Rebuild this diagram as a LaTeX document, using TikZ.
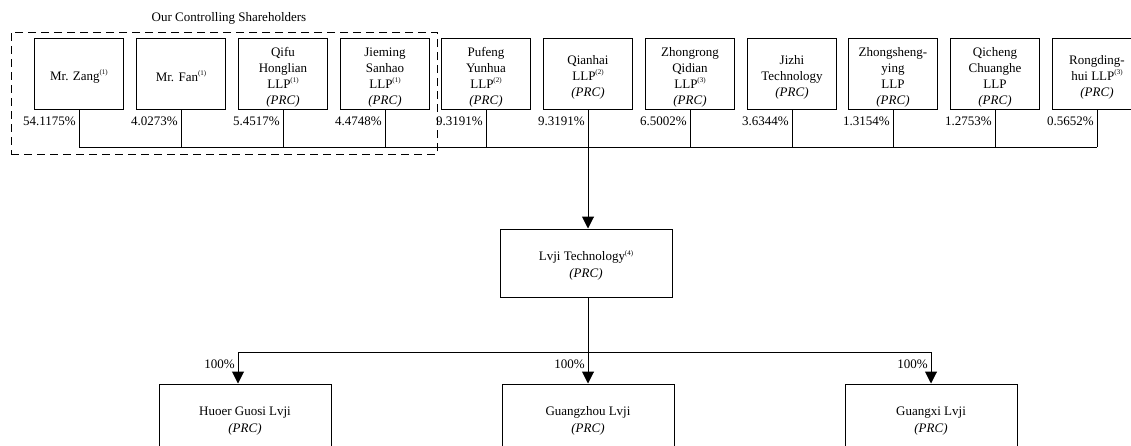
\documentclass[tikz,border=0pt]{standalone}
\usepackage{fontspec}
\setmainfont{Liberation Serif}
\usetikzlibrary{arrows.meta,calc}
\newcommand\fn[1]{\raisebox{0.42em}{\fontsize{7}{7}\selectfont(#1)}}
\newcommand\prc{\textit{(PRC)}}
\newcommand\lowr{\rule{0pt}{15pt}}
\begin{document}
\begin{tikzpicture}[x=1pt,y=-1pt,
  every node/.style={font=\fontsize{13}{16}\selectfont},
  topbox/.style={draw,line width=1pt,minimum width=89pt,minimum height=70.5pt,inner sep=0pt,align=center},
  midbox/.style={draw,line width=1pt,minimum width=172pt,minimum height=68pt,inner sep=0pt,align=center,font=\fontsize{13}{17}\selectfont},
  pct/.style={inner sep=0pt,anchor=east},
  conn/.style={line width=1pt},
  arr/.style={line width=1pt,-{Triangle[length=12pt,width=12pt]}},
  grp/.style={line width=1pt,dashed,dash pattern=on 8pt off 5pt}]
\useasboundingbox (0,0) rectangle (1131,445);
\clip (0,0) rectangle (1131,445);
\coordinate (busy) at (0,147);
\coordinate (bus2y) at (0,352);
\foreach \i/\x/\t/\p in {
  1/79/{Mr. Zang\fn{1}}/54.1175,
  2/181/{Mr. Fan\fn{1}}/4.0273,
  3/283/{Qifu\\Honglian\\LLP\fn{1}\\\prc}/5.4517,
  4/385/{Jieming\\Sanhao\\LLP\fn{1}\\\prc}/4.4748,
  5/486/{Pufeng\\Yunhua\\LLP\fn{2}\\\prc}/9.3191,
  6/588/{Qianhai\\LLP\fn{2}\\\prc}/9.3191,
  7/690/{Zhongrong\\Qidian\\LLP\fn{3}\\\prc}/6.5002,
  8/792/{Jizhi\\Technology\\\prc}/3.6344,
  9/893/{Zhongsheng-\\ying\\LLP\\\prc}/1.3154,
  10/995/{Qicheng\\Chuanghe\\LLP\\\prc}/1.2753,
  11/1097/{Rongding-\\hui LLP\fn{3}\\\prc}/0.5652}{
  \node[topbox] (s\i) at (\x,74) {\lowr\t};
  \node[pct] (p\i) at ([shift={(-3,11.5)}]s\i.south) {\p\%};
  \coordinate (b\i) at (s\i.south |- busy);
  \draw[conn] (s\i.south) -- (b\i);
}
\draw[conn] (b1) -- (b11);
\node[midbox] (lvji) at (586,263) {\lowr Lvji Technology\fn{4}\\\prc};
\draw[arr] (b6) -- (b6 |- lvji.north);
\node[midbox] (h1) at (245,418) {\lowr Huoer Guosi Lvji\\\prc};
\node[midbox] (h2) at (588,418) {\lowr Guangzhou Lvji\\\prc};
\node[midbox] (h3) at (931,418) {\lowr Guangxi Lvji\\\prc};
\coordinate (c0) at (lvji.south -| h2.north);
\coordinate (c1) at (238,352);
\coordinate (c2) at (h2.north |- bus2y);
\coordinate (c3) at (h3.north |- bus2y);
\draw[conn] (c0) -- (c2);
\draw[conn] (c1) -- (c3);
\draw[arr] (c1) -- (c1 |- h1.north);
\draw[arr] (c2) -- (h2.north);
\draw[arr] (c3) -- (h3.north);
\node[pct] (q1) at ([shift={(-3,12)}]c1) {100\%};
\node[pct] (q2) at ([shift={(-3,12)}]c2) {100\%};
\node[pct] (q3) at ([shift={(-3,12)}]c3) {100\%};
\node[draw,grp,minimum width=426pt,minimum height=122pt,inner sep=0pt] (ctrl) at (224,93) {};
\node (title) at (229,18) {Our Controlling Shareholders};
\end{tikzpicture}
\end{document}
